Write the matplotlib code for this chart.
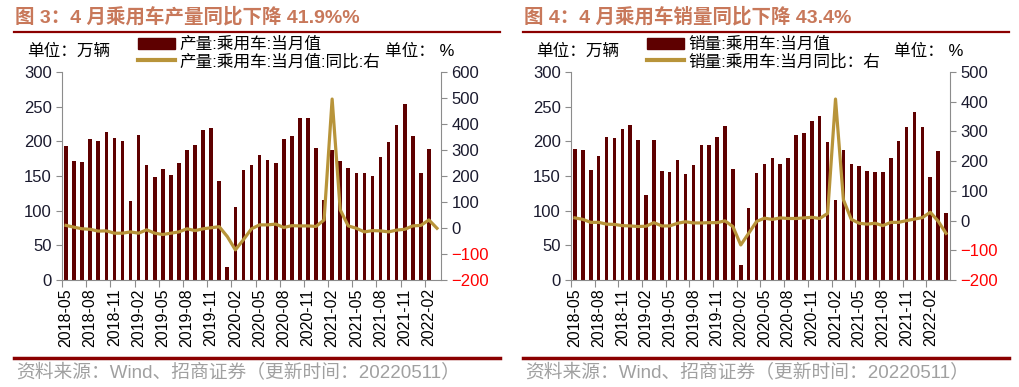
import numpy as np
import matplotlib
matplotlib.use("Agg")
import matplotlib.pyplot as plt
from matplotlib.lines import Line2D
from matplotlib.patches import Patch

plt.rcParams['font.family'] = ['Liberation Sans', 'Noto Sans CJK SC', 'DejaVu Sans']
CJK = ['Liberation Sans', 'Noto Sans CJK SC']

# x labels (every 3rd month)
tick_labels = ["2018-05", "2018-08", "2018-11", "2019-02", "2019-05", "2019-08",
               "2019-11", "2020-02", "2020-05", "2020-08", "2020-11", "2021-02",
               "2021-05", "2021-08", "2021-11", "2022-02"]

# fig 3: production (万辆) and yoy (%)
prod_bars = [193, 172, 170, 203, 200, 213, 205, 200, 114, 209,
             166, 149, 160, 152, 169, 187, 194, 216, 219, 143,
             19, 105, 159, 166, 180, 173, 169, 204, 208, 233,
             233, 191, 116, 188, 171, 162, 155, 154, 150, 177,
             199, 223, 254, 208, 154, 189]
prod_yoy = [10, 3, -3, -5, -12, -11, -20, -20, -15, -20,
            -7, -20, -25, -20, -15, -3, -10, -3, 1, 5,
            -33, -84, -45, -3, 12, 12, 15, 2, 9, 8,
            8, 6, 31, 496, 70, 8, -1, -15, -10, -11,
            -15, -8, -5, 8, 10, 31, -1]

# fig 4: sales
sales_bars = [189, 188, 159, 179, 206, 205, 218, 224, 202, 123,
              202, 157, 156, 173, 153, 166, 194, 194, 206, 222,
              160, 22, 104, 155, 168, 176, 168, 176, 209, 212,
              230, 237, 199, 115, 188, 168, 164, 157, 156, 156,
              176, 201, 220, 243, 220, 149, 186, 97]
sales_yoy = [9, 4, -6, -6, -12, -13, -17, -18, -20, -19,
             -7, -18, -18, -9, -4, -8, -8, -7, -7, -1,
             -20, -82, -43, -3, 8, 4, 9, 7, 7, 9,
             11, 7, 24, 409, 70, 4, -9, -12, -9, -17,
             -6, -6, 0, 5, 10, 28, -2, -43]

BAR_C = '#5e0000'
LINE_C = '#b8943a'
TITLE_C = '#c8785a'
RULE_C = '#8b0000'
SPINE_C = '#8c8c8c'


def draw_panel(fig, x0, bars, yoy, rmax, title, leg1, leg2):
    px = lambda v: v / 1020
    py = lambda v: 1 - v / 387
    ax = fig.add_axes([px(x0), py(280), px(379), py(72) - py(280)])
    n = len(yoy)
    ax.bar(np.arange(len(bars)), bars, width=0.45, color=BAR_C, zorder=2)
    ax.set_xlim(-0.5, n - 0.5)
    ax.set_ylim(0, 300)
    ax.set_yticks(np.arange(0, 301, 50))
    ax.tick_params(axis='y', labelsize=12, length=4, color=SPINE_C, labelcolor='#1a1a2e')
    ax.set_xticks(np.arange(-0.5, n - 0.5, 3))
    ax.set_xticklabels([])
    ax.set_xticks(np.arange(0, n, 3), minor=True)
    ax.set_xticklabels(tick_labels[:len(np.arange(0, n, 3))], minor=True, rotation=90, fontsize=11.5)
    ax.tick_params(axis='x', which='major', length=5, color=SPINE_C)
    ax.tick_params(axis='x', which='minor', length=0, pad=6)
    for s in ['top', 'right']:
        ax.spines[s].set_visible(False)
    for s in ['left', 'bottom']:
        ax.spines[s].set_color(SPINE_C)

    ax2 = ax.twinx()
    ax2.plot(np.arange(n), yoy, color=LINE_C, lw=2.3, zorder=3)
    ax2.set_ylim(-200, rmax)
    ax2.set_yticks(np.arange(-200, rmax + 1, 100))
    ax2.tick_params(axis='y', labelsize=12, length=4, color=SPINE_C)
    for t, v in zip(ax2.get_yticklabels(), np.arange(-200, rmax + 1, 100)):
        t.set_color('#ff0000' if v < 0 else '#1a1a2e')
    for s in ['top', 'left', 'bottom']:
        ax2.spines[s].set_visible(False)
    ax2.spines['right'].set_color(SPINE_C)

    # title, rules, source
    left = x0 - 48
    fig.text(px(left + 1), py(17), title, fontsize=14, fontweight='bold',
             color=TITLE_C, va='center', family=CJK)
    fig.add_artist(Line2D([px(left), px(left + 486)], [py(32), py(32)], color=RULE_C, lw=1.6))
    fig.add_artist(Line2D([px(left), px(left + 486)], [py(357.5), py(357.5)], color=RULE_C, lw=2.5))
    fig.text(px(left + 2), py(373), "资料来源：Wind、招商证券（更新时间：20220511）",
             fontsize=13.5, color='#a0a0a0', va='center', family=CJK)

    fig.text(px(x0 - 35), py(51), "单位：万辆", fontsize=12, va='center', family=CJK)
    fig.text(px(x0 + 323), py(51), "单位： %", fontsize=12, va='center', family=CJK)
    handles = [Patch(color=BAR_C), Line2D([], [], color=LINE_C, lw=3)]
    fig.legend(handles, [leg1, leg2], loc='center left',
               bbox_to_anchor=(px(x0 + 68), py(53)), frameon=False,
               prop={'family': CJK, 'size': 12}, handlelength=2.2,
               handleheight=0.65, labelspacing=0.1, borderpad=0, handletextpad=0.25)


fig = plt.figure(figsize=(10.2, 3.87), dpi=100)
draw_panel(fig, 62, prod_bars, prod_yoy, 600, "图 3：4 月乘用车产量同比下降 41.9%%",
           "产量:乘用车:当月值", "产量:乘用车:当月值:同比:右")
draw_panel(fig, 571, sales_bars, sales_yoy, 500, "图 4：4 月乘用车销量同比下降 43.4%",
           "销量:乘用车:当月值", "销量:乘用车:当月同比：右")
fig.savefig("out.png", dpi=100)
